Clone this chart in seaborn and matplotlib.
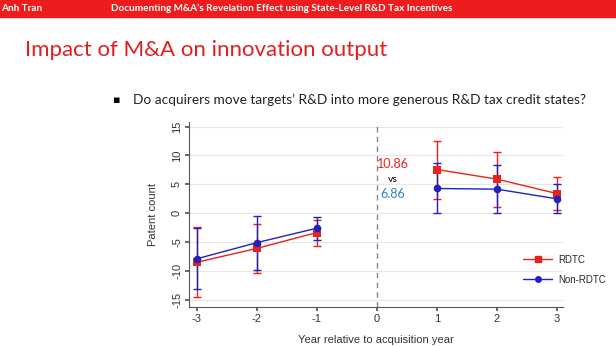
import matplotlib
matplotlib.use("Agg")
import matplotlib.pyplot as plt
import seaborn as sns
import pandas as pd
from matplotlib.lines import Line2D

# ---- data ----
years = [-3, -2, -1, 1, 2, 3]
period = ["pre", "pre", "pre", "post", "post", "post"]
rdtc = [-8.5, -6.1, -3.35, 7.57, 5.9, 3.4]
rdtc_lo = [-14.6, -10.3, -5.6, 2.54, 1.16, 0.5]
rdtc_hi = [-2.4, -1.9, -1.2, 12.5, 10.6, 6.3]
non_rdtc = [-7.9, -5.1, -2.6, 4.28, 4.16, 2.49]
non_lo = [-13.1, -9.8, -4.6, 0.0, 0.1, 0.0]
non_hi = [-2.6, -0.5, -0.6, 8.67, 8.27, 5.0]
series = ["RDTC", "Non-RDTC"]
xticks = [-3, -2, -1, 0, 1, 2, 3]
yticks = [-15, -10, -5, 0, 5, 10, 15]

RED = "#e8231c"
BLUE = "#2222bb"

df = pd.DataFrame({
    "year": years * 2,
    "value": rdtc + non_rdtc,
    "lo": rdtc_lo + non_lo,
    "hi": rdtc_hi + non_hi,
    "group": [series[0]] * 6 + [series[1]] * 6,
    "period": period * 2,
})

sns.set_theme(style="white")
plt.rcParams["font.family"] = ["Liberation Sans", "DejaVu Sans"]

fig = plt.figure(figsize=(6.16, 3.46), dpi=100)

# slide header bar
fig.patches.append(plt.Rectangle((0, 1 - 17 / 346), 1, 17 / 346, transform=fig.transFigure,
                                 color="#ee1c1c", zorder=0))
fig.text(1 / 616, 1 - 8.5 / 346, "Anh Tran", color="white", fontsize=7.2, fontweight="bold",
         va="center", ha="left", family=["Lato", "DejaVu Sans"])
fig.text(282 / 616, 1 - 8.5 / 346, "Documenting M&A\u2019s Revelation Effect using State-Level R&D Tax Incentives",
         color="white", fontsize=7.2, fontweight="bold", va="center", ha="center",
         family=["Lato", "DejaVu Sans"])
fig.text(25 / 616, 1 - 50 / 346, "Impact of M&A on innovation output", color="#e02020",
         fontsize=16, va="center", ha="left", family=["Lato", "DejaVu Sans"])
fig.text(113 / 616, 1 - 100 / 346, "\u25aa", color="black", fontsize=8, va="center", ha="left",
         family=["DejaVu Sans"])
fig.text(133 / 616, 1 - 100 / 346, "Do acquirers move targets\u2019 R&D into more generous R&D tax credit states?",
         color="#222222", fontsize=9.8, va="center", ha="left", family=["Lato", "DejaVu Sans"])

ax = fig.add_axes([189 / 616, 1 - 306.7 / 346, (563 - 189) / 616, (306.7 - 122) / 346])

# error bars
colors = {series[0]: RED, series[1]: BLUE}
for g, sub in df.groupby("group", sort=False):
    ax.errorbar(sub["year"], sub["value"],
                yerr=[sub["value"] - sub["lo"], sub["hi"] - sub["value"]],
                fmt="none", ecolor=colors[g], elinewidth=1.0, capsize=3, capthick=1.0, zorder=3)

sns.lineplot(data=df, x="year", y="value", hue="group", units="period", estimator=None,
             palette=colors, ax=ax, lw=1.0, legend=False, zorder=4)
for g, mk, ms in [(series[0], "s", 5.5), (series[1], "o", 5.5)]:
    sub = df[df["group"] == g]
    sns.scatterplot(x=sub["year"], y=sub["value"], marker=mk, color=colors[g], s=ms ** 2,
                    edgecolor=colors[g], linewidth=0, ax=ax, zorder=5, legend=False)

ax.axvline(0, color="#888888", ls=(0, (4, 3)), lw=1.0, zorder=1)

ax.set_xlim(-3.13, 3.1)
ax.set_ylim(-16.2, 15.8)
ax.set_xticks(xticks)
ax.set_yticks(yticks)
ax.set_xticklabels([str(t) for t in xticks], fontsize=8, color="#333333")
ax.set_yticklabels([str(t) for t in yticks], fontsize=8, color="#333333", rotation=90, va="center")
ax.yaxis.grid(True, color="#e6e6e6", lw=0.8)
ax.xaxis.grid(False)
for s in ["top", "right"]:
    ax.spines[s].set_visible(False)
for s in ["left", "bottom"]:
    ax.spines[s].set_color("#555555")
    ax.spines[s].set_linewidth(0.8)
ax.tick_params(axis="both", which="both", length=3, color="#555555", pad=2, left=True, bottom=True)
ax.set_xlabel("Year relative to acquisition year", fontsize=8, color="#333333", labelpad=8)
ax.set_ylabel("Patent count", fontsize=8, color="#333333", labelpad=10)

# annotations
ax.text(0.54, 8.6, "10.86", color=RED, fontsize=9, ha="right", va="center",
        family=["Lato", "DejaVu Sans"])
ax.text(0.27, 5.9, "vs", color="black", fontsize=7.5, ha="center", va="center",
        family=["Lato", "DejaVu Sans"])
ax.text(0.47, 3.3, "6.86", color="#2e86c1", fontsize=9, ha="right", va="center",
        family=["Lato", "DejaVu Sans"])

handles = [Line2D([], [], color=RED, marker="s", ms=4, lw=1.0),
           Line2D([], [], color=BLUE, marker="o", ms=4, lw=1.0)]
ax.legend(handles, series, loc="center left", bbox_to_anchor=(0.87, 0.20), frameon=False,
          fontsize=7, handlelength=3.0, labelspacing=1.0, handletextpad=0.6)

fig.savefig("out.png", dpi=100, facecolor="white")
